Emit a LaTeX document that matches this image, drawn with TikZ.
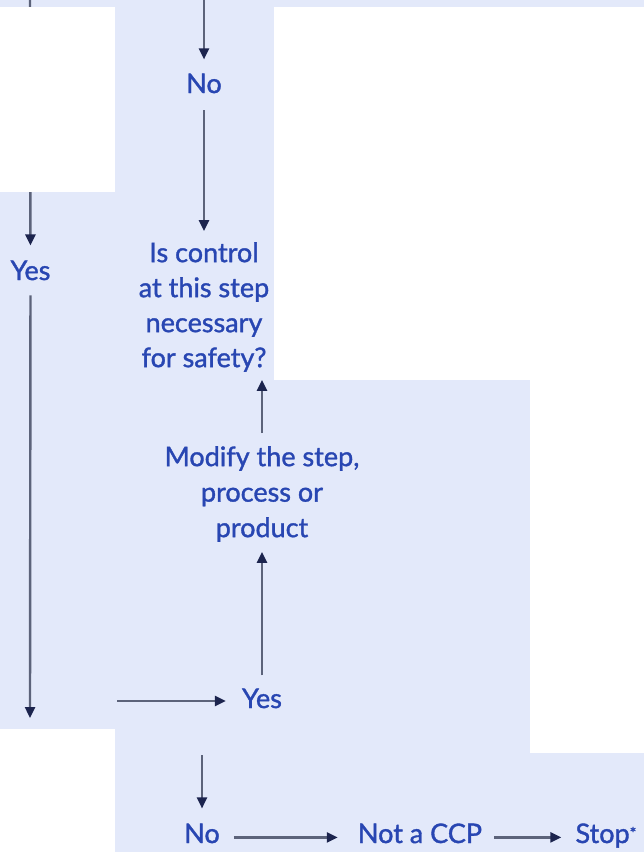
\documentclass[tikz,border=0pt]{standalone}
\usepackage{fontspec}
\setmainfont{Lato}
\newfontfamily\lblfont{Lato}[FakeBold=1.3]
\usetikzlibrary{arrows.meta,calc}
\definecolor{bgblue}{RGB}{227,233,250}
\definecolor{txtblue}{RGB}{40,70,178}
\definecolor{linegrey}{RGB}{92,99,122}
\definecolor{headnavy}{RGB}{28,36,78}
\begin{document}
\begin{tikzpicture}[x=1pt,y=-1pt,
  lbl/.style={text=txtblue, inner sep=0pt, font=\lblfont\fontsize{27}{35}\selectfont, align=center},
  arr/.style={draw=linegrey, line width=2.4pt, -{Triangle[length=11pt,width=10pt,color=headnavy]}}]
\fill[bgblue] (0,0) rectangle (644,852);
\useasboundingbox (0,0) rectangle (644,852);
\fill[white] (274,7) rectangle (644,380);
\fill[white] (530,380) rectangle (644,753);
\fill[white] (0,729) rectangle (115,852);
% nodes
\node[lbl, anchor=base] (no1) at (204,93) {No};
\node[lbl, anchor=base] (yes1) at (30.5,280) {Yes};
\node[lbl] (q) at (204,307) {Is control\\at this step\\necessary\\for safety?};
\node[lbl, font=\lblfont\fontsize{27}{35.5}\selectfont] (mod) at (262,494) {Modify the step,\\process or\\product};
\node[lbl, anchor=base] (yes2) at (262,708) {Yes};
\node[lbl, anchor=base] (no2) at (202,843) {No};
\node[lbl, anchor=base] (ncp) at (420,843) {Not a CCP};
\node[lbl, anchor=base] (stop) at (606,843) {Stop\raisebox{4pt}{\fontsize{16}{16}\selectfont*}};
% free ends
\coordinate (topmid) at (204,0);
\coordinate (topleft) at (30,0);
\coordinate (leftend) at (30,718);
\coordinate (hstart) at (117,701);
\coordinate (a1) at ($(no2.east)+(0,4)$);
\coordinate (a2) at ($(ncp.east)+(0,4)$);
% connectors
\draw[arr, shorten >=14pt] (topmid) -- (no1);
\draw[arr, shorten <=17pt, shorten >=11pt] (no1) -- (q);
\draw[arr, shorten >=15pt] (topleft) -- (yes1);
\fill[white] (0,7) rectangle (115,192);
\draw[arr, shorten <=15pt] (yes1) -- (leftend);
\draw[arr, shorten >=16pt] (hstart) -- (hstart -| yes2.west);
\draw[arr, shorten <=13pt, shorten >=10pt] (yes2) -- (mod);
\draw[arr, shorten <=13pt, shorten >=8pt] (mod.north) -- (mod.north |- q.south);
\draw[arr, shorten <=47pt, shorten >=15pt] (no2.north |- yes2.south) -- (no2.north);
\draw[arr, shorten <=14pt, shorten >=20pt] (a1) -- (a1 -| ncp.west);
\draw[arr, shorten <=12pt, shorten >=14pt] (a2) -- (a2 -| stop.west);
\end{tikzpicture}
\end{document}
